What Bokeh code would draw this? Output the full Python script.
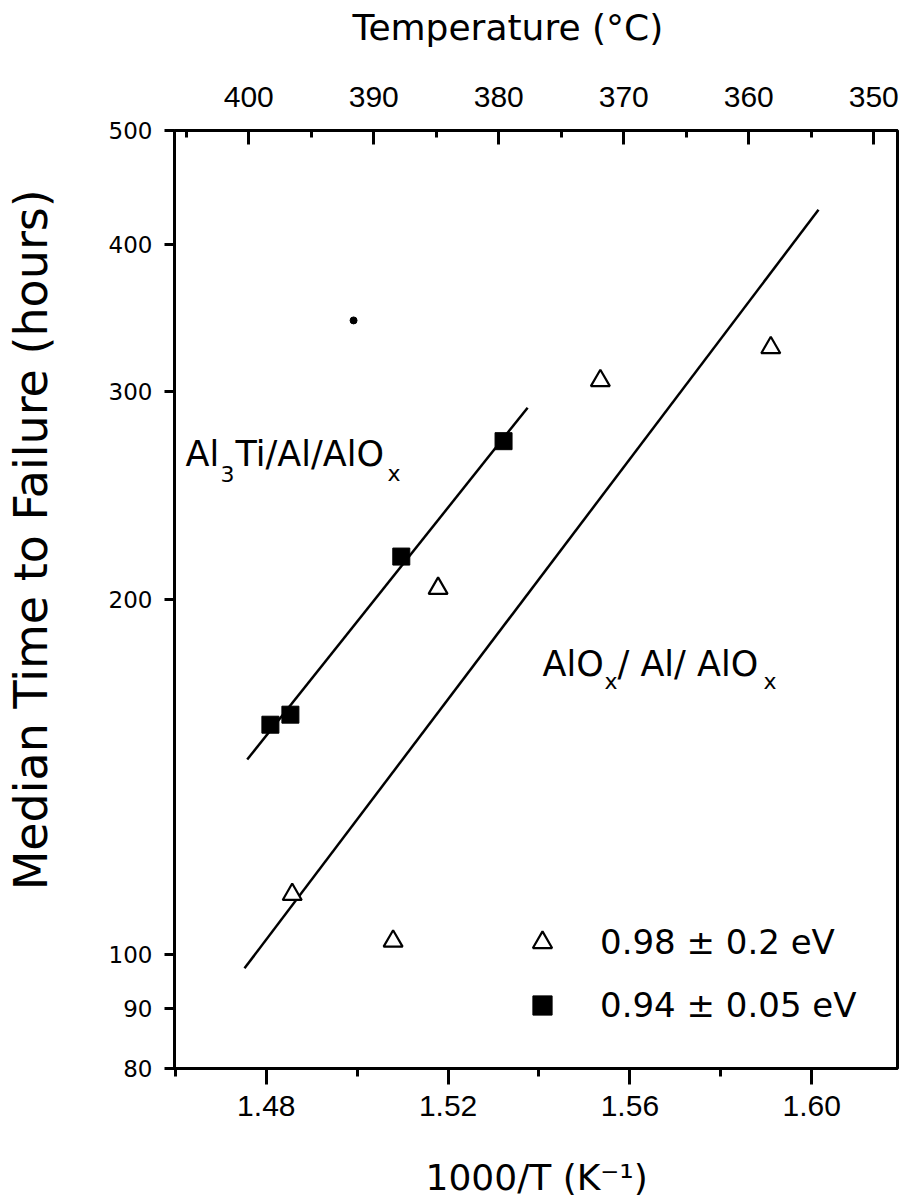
from bokeh.plotting import figure
from bokeh.models import (Range1d, LinearAxis, FixedTicker, NumeralTickFormatter,
                          Label, Legend, LegendItem)
from bokeh.embed import file_html
from bokeh.resources import INLINE

# ---------------- data ----------------
alox_x = [1.4857, 1.5079, 1.5178, 1.5535, 1.5910]          # open triangles
alox_y = [112.4, 102.6, 204.4, 306.7, 327.1]
al3ti_x = [1.4809, 1.4853, 1.5097, 1.5322]                 # filled squares
al3ti_y = [156.6, 159.7, 217.5, 272.5]
stray_x = [1.4992]
stray_y = [345.0]
fit_al3ti_x = [1.4758, 1.5375]
fit_al3ti_y = [146.3, 290.9]
fit_alox_x = [1.4752, 1.6015]
fit_alox_y = [97.3, 428.3]

x_ticks = [1.48, 1.52, 1.56, 1.60]
x_minor = [1.46, 1.50, 1.54, 1.58, 1.62]
y_ticks = [80, 90, 100, 200, 300, 400, 500]
temp_ticks = [400, 390, 380, 370, 360, 350]
temp_minor = [405, 395, 385, 375, 365, 355]
legend_labels = ["0.98 ± 0.2 eV", "0.94 ± 0.05 eV"]

x_title = "1000/T (K⁻¹)"
y_title = "Median Time to Failure (hours)"
top_title = "Temperature (°C)"

TICKFONT = "Liberation Sans"
TEXTFONT = "DejaVu Sans"

p = figure(width=900, height=1202, output_backend="svg", toolbar_location=None,
           x_range=Range1d(1.4598, 1.61888), y_range=Range1d(80, 500),
           y_axis_type="log", x_axis_location="below",
           min_border_left=174, min_border_right=3,
           min_border_top=130, min_border_bottom=134)
p.background_fill_color = "white"
p.border_fill_color = "white"
p.outline_line_color = "black"
p.outline_line_width = 3
p.xgrid.visible = False
p.ygrid.visible = False

# bottom axis
xa = p.xaxis[0]
xa.ticker = FixedTicker(ticks=x_ticks, minor_ticks=x_minor)
xa.formatter = NumeralTickFormatter(format="0.00")
xa.major_label_text_font = TICKFONT
xa.major_label_text_font_size = "30px"
xa.major_label_text_color = "black"
xa.major_label_standoff = 11
xa.major_tick_out = 16
xa.major_tick_in = 0
xa.minor_tick_out = 8
xa.minor_tick_in = 0
xa.axis_line_width = 3
xa.axis_line_color = "black"
xa.major_tick_line_width = 3
xa.minor_tick_line_width = 3

# left axis
ya = p.yaxis[0]
ya.ticker = FixedTicker(ticks=y_ticks, minor_ticks=[])
ya.formatter = NumeralTickFormatter(format="0")
ya.major_label_text_font = TEXTFONT
ya.major_label_text_font_size = "23px"
ya.major_label_text_color = "black"
ya.major_label_standoff = 12
ya.major_tick_out = 10
ya.major_tick_in = 0
ya.minor_tick_out = 0
ya.minor_tick_in = 0
ya.axis_line_width = 3
ya.axis_line_color = "black"
ya.major_tick_line_width = 3

# top temperature axis
p.extra_x_ranges = {"temp": Range1d(405.94, 348.1)}
ta = LinearAxis(x_range_name="temp")
ta.ticker = FixedTicker(ticks=temp_ticks, minor_ticks=temp_minor)
ta.formatter = NumeralTickFormatter(format="0")
ta.major_label_text_font = TICKFONT
ta.major_label_text_font_size = "30px"
ta.major_label_text_color = "black"
ta.major_label_standoff = 24
ta.major_tick_in = 14
ta.major_tick_out = 0
ta.minor_tick_in = 7
ta.minor_tick_out = 0
ta.axis_line_width = 3
ta.major_tick_line_width = 3
ta.minor_tick_line_width = 3
p.add_layout(ta, "above")

# fit lines
p.line(fit_al3ti_x, fit_al3ti_y, line_color="black", line_width=2.5)
p.line(fit_alox_x, fit_alox_y, line_color="black", line_width=2.5)

# data points
r_tri = p.scatter(alox_x, alox_y, marker="triangle", size=19,
                  fill_color="white", line_color="black", line_width=2.2)
r_sq = p.scatter(al3ti_x, al3ti_y, marker="square", size=17,
                 fill_color="black", line_color="black")
p.scatter(stray_x, stray_y, marker="circle", size=7,
          fill_color="black", line_color="black")

# legend
leg = Legend(items=[LegendItem(label=legend_labels[0], renderers=[r_tri]),
                    LegendItem(label=legend_labels[1], renderers=[r_sq])],
             location=(344, 39), orientation="vertical",
             glyph_width=48, glyph_height=48, label_height=48,
             spacing=15, padding=0, margin=0, label_standoff=34,
             border_line_color=None, background_fill_alpha=0,
             label_text_font=TEXTFONT, label_text_font_size="34px",
             label_text_color="black")
p.add_layout(leg, "center")

# text annotations
def make_label(x, y, text, size, angle=0):
    return Label(x=x, y=y, text=text, text_font=TEXTFONT,
                 text_font_size=size, text_color="black",
                 text_baseline="alphabetic", text_align="left",
                 angle=angle, angle_units="deg")

# axis titles: placed in side panels so they are not clipped to the frame
p.add_layout(make_label(1.42812, 113.3, y_title, "46px", angle=90), "left")
p.add_layout(make_label(1.49897, 611.4, top_title, "36px"), "above")
p.add_layout(make_label(1.51503, 64.66, x_title, "36px"), "below")

# curve labels (main text + subscripts)
for lab in [make_label(1.46222, 265.9, "Al", "35px"),
            make_label(1.46992, 255.8, "3", "22px"),
            make_label(1.47322, 265.9, "Ti/Al/AlO", "35px"),
            make_label(1.50667, 255.8, "x", "22px"),
            make_label(1.54077, 176.3, "AlO", "35px"),
            make_label(1.55441, 170.3, "x", "22px"),
            make_label(1.55727, 176.3, "/ Al/ AlO", "35px"),
            make_label(1.58939, 170.3, "x", "22px")]:
    p.add_layout(lab, "center")

open("out.html", "w").write(file_html(p, INLINE))
